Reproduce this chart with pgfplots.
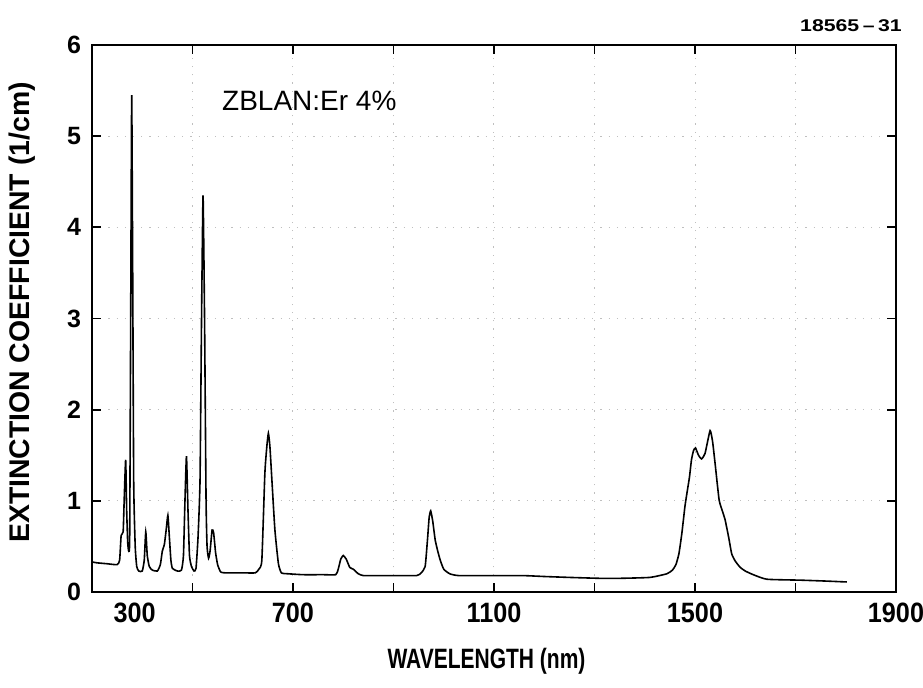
\documentclass[border=0pt]{standalone}
\usepackage{pgfplots}
\pgfplotsset{compat=1.18}
\usepackage{fontspec}
\setmainfont{Liberation Sans}

% Er-doped ZBLAN extinction spectrum
\pgfplotstableread{
x y
300 0.33
310 0.32
330 0.31
350 0.30
355 0.35
358 0.62
362 0.66
364 1.00
367 1.45
369 0.90
371 0.55
373 0.45
375 0.60
377 3.00
379 5.45
381 3.50
383 1.20
386 0.50
389 0.28
393 0.23
400 0.23
404 0.35
407 0.66
410 0.40
414 0.28
420 0.24
430 0.23
436 0.30
440 0.45
444 0.52
448 0.70
451 0.84
454 0.60
457 0.35
460 0.26
470 0.23
478 0.24
482 0.40
485 1.00
488 1.49
491 0.90
494 0.40
498 0.28
503 0.23
507 0.26
511 0.60
515 1.23
518 3.00
521 4.35
524 3.00
527 1.00
529 0.50
532 0.37
535 0.45
539 0.68
542 0.65
546 0.43
550 0.30
556 0.22
565 0.21
600 0.21
625 0.21
632 0.25
638 0.35
644 1.30
648 1.60
651 1.74
654 1.60
658 1.23
664 0.68
671 0.31
677 0.21
690 0.20
720 0.19
760 0.19
785 0.19
790 0.25
795 0.36
800 0.40
806 0.36
813 0.27
820 0.25
830 0.20
840 0.18
870 0.18
900 0.18
946 0.18
955 0.21
963 0.28
968 0.60
971 0.82
974 0.89
978 0.78
983 0.57
988 0.45
993 0.35
1000 0.25
1012 0.20
1030 0.18
1100 0.18
1158 0.18
1200 0.17
1250 0.16
1311 0.15
1350 0.15
1410 0.16
1444 0.20
1455 0.24
1462 0.30
1468 0.42
1474 0.65
1480 0.94
1485 1.12
1489 1.26
1493 1.45
1497 1.55
1501 1.58
1507 1.50
1513 1.46
1520 1.52
1530 1.77
1535 1.65
1540 1.41
1548 1.01
1555 0.88
1560 0.79
1567 0.60
1573 0.42
1580 0.34
1590 0.27
1600 0.23
1616 0.19
1643 0.14
1709 0.13
1760 0.12
1802 0.11
}\spectrum

\begin{document}
\begin{tikzpicture}
\begin{axis}[
  name=ax,
  at={(0,0)}, anchor=south west,
  scale only axis,
  width=402pt, height=273.5pt,
  xmin=300, xmax=1900, ymin=0, ymax=6,
  axis line style={line width=1.2pt},
  xtick={300,700,1100,1500,1900},
  minor xtick={500,900,1300,1700},
  xticklabels={\makebox[0pt][l]{\hspace{12pt}300},700,1100,1500,1900},
  ytick={0,1,...,6},
  tick align=inside,
  major tick length=4.5pt, minor tick length=4.5pt,
  every tick/.style={black, line width=0.9pt},
  /pgf/number format/assume math mode=true,
  xticklabel style={font=\fontsize{14}{14}\bfseries, yshift=-2pt, xscale=0.9},
  yticklabel style={font=\fontsize{12.5}{12.5}\bfseries, xshift=-2pt},
  grid=both,
  major grid style={gray!50, line width=0.5pt, dash pattern=on 0.6pt off 3.5pt},
  minor grid style={gray!50, line width=0.5pt, dash pattern=on 0.6pt off 3.5pt},
  clip=false,
]
\addplot[black, line width=0.8pt, smooth, tension=0.3] table[x=x, y=y] {\spectrum};
\node[anchor=west, font=\fontsize{14}{14}\selectfont] at (axis cs:545,5.39) {ZBLAN:Er 4\%};
\end{axis}
\node[rotate=90, font=\fontsize{14.2}{14.2}\bfseries] at (-35pt,139.75pt) {EXTINCTION COEFFICIENT (1/cm)};
\node[font=\fontsize{14}{14}\bfseries, xscale=0.75] at (197.25pt,-34.5pt) {WAVELENGTH (nm)};
\node[font=\fontsize{8.5}{8.5}\bfseries, xscale=1.25] at (379.5pt,283pt) {18565{\,}--{\,}31};
\pgfresetboundingbox
\path[use as bounding box] (-46pt,-47.5pt) rectangle (415.5pt,296pt);
\end{tikzpicture}
\end{document}
